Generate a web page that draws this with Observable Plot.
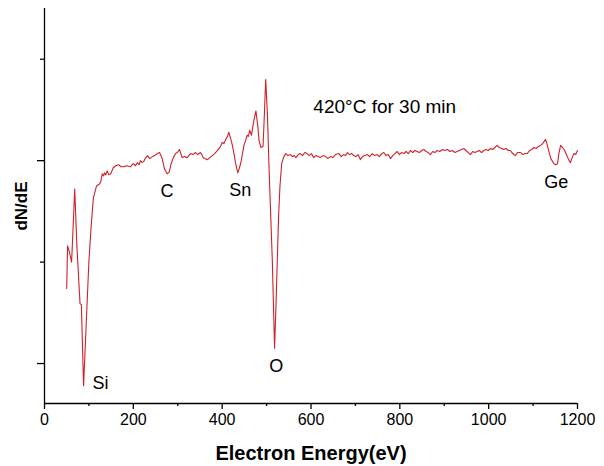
<!DOCTYPE html>
<html>
<head>
<meta charset="utf-8">
<script src="https://cdn.jsdelivr.net/npm/d3@7"></script>
<script src="https://cdn.jsdelivr.net/npm/@observablehq/plot@0.6"></script>
<style>
  html, body { margin: 0; padding: 0; background: #fff; }
  svg { font-family: "Liberation Sans", Arial, sans-serif; }
</style>
</head>
<body>
<div id="chart"></div>
<script>
// [electron energy (eV), dN/dE (arb. units)]
const spectrum = [
[50,0.74],[52,1.16],[56,1.10],[61,1.00],[64,1.30],[68,1.72],[73,1.15],[80,0.59],[83,0.58],[88,-0.22],
[94,0.40],[100,1.01],[105,1.35],[110,1.63],[117,1.75],[124,1.77],[127,1.80],[130,1.87],[133,1.85],[135,1.88],
[138,1.86],[141,1.90],[145,1.86],[149,1.87],[152,1.90],[155,1.93],[160,1.95],[167,1.96],[172,1.94],[178,1.94],
[185,1.95],[194,1.94],[197,1.96],[200,1.97],[205,1.95],[209,1.98],[213,1.96],[216,2.00],[220,1.98],[223,1.99],
[228,2.03],[232,2.05],[237,2.02],[243,2.04],[248,2.05],[254,2.07],[259,2.08],[262,2.05],[265,2.02],[270,1.92],
[276,1.87],[281,1.89],[285,1.97],[290,2.03],[295,2.07],[299,2.08],[304,2.11],[307,2.07],[310,2.03],[315,2.04],
[321,2.03],[325,2.05],[329,2.07],[334,2.06],[340,2.08],[345,2.06],[351,2.08],[354,2.06],[357,2.03],[362,2.02],
[367,2.01],[372,2.03],[378,2.05],[383,2.07],[389,2.10],[395,2.13],[400,2.18],[404,2.17],[408,2.21],[412,2.24],
[415,2.28],[419,2.22],[423,2.15],[427,2.06],[430,1.98],[435,1.88],[439,1.93],[443,2.00],[449,2.15],[453,2.20],
[456,2.25],[459,2.24],[462,2.30],[466,2.25],[471,2.39],[476,2.49],[480,2.35],[483,2.20],[487,2.13],[492,2.14],
[495,2.45],[498,2.80],[502,2.45],[505,2.00],[509,1.50],[513,1.00],[518,0.15],[521,0.55],[524,1.00],[527,1.45],
[530,1.74],[534,1.97],[538,2.03],[543,2.07],[548,2.05],[554,2.06],[558,2.04],[562,2.05],[566,2.03],[571,2.06],
[576,2.07],[581,2.05],[586,2.08],[591,2.07],[596,2.05],[601,2.07],[606,2.03],[611,2.05],[616,2.04],[621,2.03],
[627,2.05],[633,2.04],[638,2.02],[644,2.04],[649,2.03],[655,2.06],[663,2.07],[668,2.04],[673,2.06],[678,2.05],
[682,2.08],[687,2.06],[692,2.07],[696,2.05],[701,2.04],[706,2.06],[711,2.01],[716,2.04],[721,2.05],[727,2.06],
[732,2.04],[738,2.07],[743,2.05],[749,2.06],[754,2.04],[759,2.07],[764,2.08],[769,2.05],[774,2.06],[779,2.02],
[784,2.05],[789,2.07],[794,2.09],[799,2.06],[804,2.08],[809,2.07],[814,2.09],[819,2.07],[824,2.10],[829,2.08],
[834,2.10],[839,2.09],[844,2.08],[849,2.10],[854,2.11],[859,2.09],[864,2.08],[869,2.06],[874,2.09],[879,2.08],
[884,2.10],[890,2.09],[896,2.11],[901,2.10],[907,2.11],[913,2.09],[918,2.10],[924,2.08],[929,2.09],[934,2.10],
[939,2.11],[944,2.12],[949,2.10],[954,2.08],[959,2.06],[964,2.09],[969,2.08],[974,2.09],[979,2.10],[984,2.08],
[989,2.10],[994,2.11],[999,2.10],[1004,2.12],[1009,2.11],[1014,2.13],[1019,2.15],[1024,2.13],[1029,2.12],[1034,2.11],
[1039,2.12],[1044,2.10],[1049,2.10],[1054,2.07],[1060,2.05],[1065,2.08],[1072,2.08],[1077,2.06],[1082,2.07],[1087,2.07],
[1092,2.10],[1097,2.11],[1102,2.13],[1107,2.12],[1112,2.14],[1117,2.15],[1122,2.17],[1128,2.21],[1131,2.17],[1135,2.10],
[1140,2.02],[1147,1.97],[1151,1.96],[1155,1.97],[1158,2.07],[1162,2.15],[1166,2.13],[1170,2.11],[1175,2.06],[1180,2.01],
[1184,1.98],[1188,2.03],[1192,2.07],[1196,2.06],[1200,2.10]
];

const xMajorTicks = [0, 200, 400, 600, 800, 1000, 1200];
const xMinorTicks = [100, 300, 500, 700, 900, 1100];
const yMajorTicks = [0, 2];
const yMinorTicks = [1, 3];
const xDomain = [0, 1200];
const yDomain = [-0.394, 3.5];

const peakLabels = ["Si", "C", "Sn", "O", "Ge"];
const peakX = [126, 276, 441, 522, 1152];
const peakY = [-0.19, 1.695, 1.704, -0.03, 1.783];

const noteText = ["420°C for 30 min"];
const noteX = [766];
const noteY = [2.53];

const xTitle = "Electron Energy(eV)";
const yTitle = "dN/dE";

const data = spectrum.map(([e, v]) => ({e, v}));
const peaks = peakLabels.map((t, i) => ({t, x: peakX[i], y: peakY[i]}));
const notes = noteText.map((t, i) => ({t, x: noteX[i], y: noteY[i]}));

const chart = Plot.plot({
  width: 604,
  height: 466,
  marginLeft: 44,
  marginRight: 27,
  marginTop: 8,
  marginBottom: 63,
  style: {fontFamily: "'Liberation Sans', Arial, sans-serif", color: "#000", background: "#fff"},
  x: {domain: xDomain},
  y: {domain: yDomain},
  marks: [
    Plot.line(data, {x: "e", y: "v", stroke: "#d0202a", strokeWidth: 1.1}),
    Plot.ruleX([xDomain[0]], {stroke: "#000", strokeWidth: 1.3}),
    Plot.ruleY([yDomain[0]], {stroke: "#000", strokeWidth: 1.3}),
    Plot.axisX(xMajorTicks, {tickSize: 6, tickPadding: 4, fontSize: 16, label: null, tickFormat: d => String(d), stroke: "#000", strokeWidth: 1.3}),
    Plot.axisX(xMinorTicks, {tickSize: 3, text: null, label: null, stroke: "#000", strokeWidth: 1.3}),
    Plot.axisY(yMajorTicks, {tickSize: 7, text: null, label: null, stroke: "#000", strokeWidth: 1.3}),
    Plot.axisY(yMinorTicks, {tickSize: 4, text: null, label: null, stroke: "#000", strokeWidth: 1.3}),
    Plot.text([xTitle], {frameAnchor: "bottom", textAnchor: "middle", lineAnchor: "middle", dy: 50, fontSize: 20, fontWeight: "bold", fill: "#000"}),
    Plot.text([yTitle], {frameAnchor: "left", textAnchor: "middle", lineAnchor: "middle", rotate: -90, dx: -23, fontSize: 17, fontWeight: "bold", fill: "#000"}),
    Plot.text(peaks, {x: "x", y: "y", text: "t", fontSize: 18, fill: "#000", lineAnchor: "middle"}),
    Plot.text(notes, {x: "x", y: "y", text: "t", fontSize: 19, fill: "#000", lineAnchor: "middle"})
  ]
});
document.getElementById("chart").appendChild(chart);
</script>
</body>
</html>
